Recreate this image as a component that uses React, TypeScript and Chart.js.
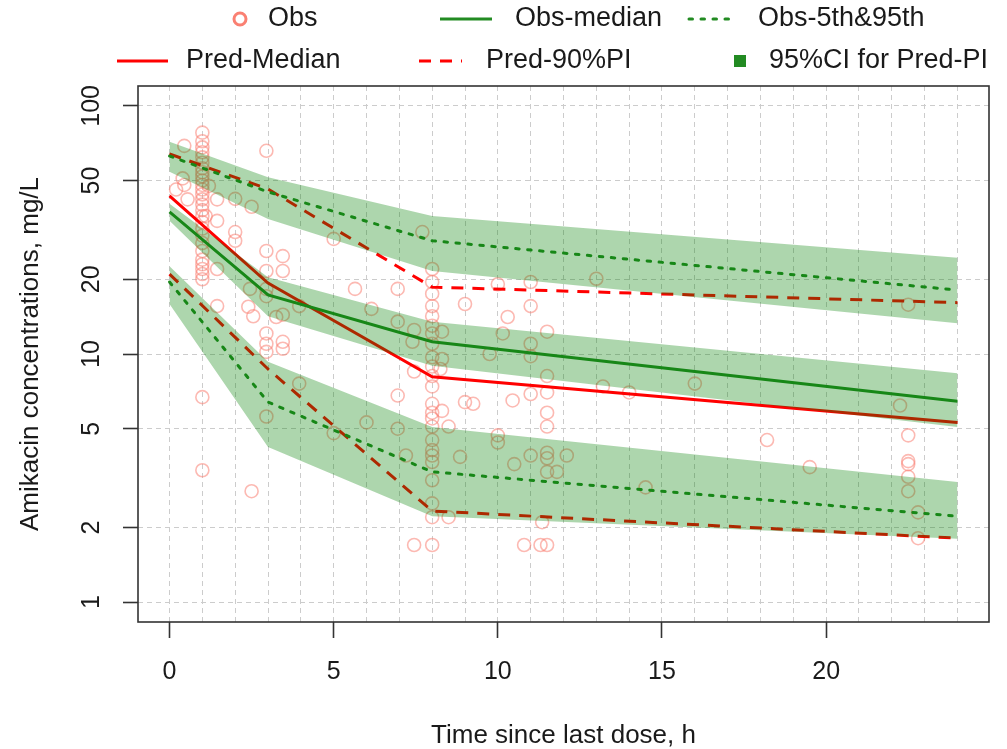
import React, { useEffect, useRef } from 'react';
import { Chart, registerables } from 'chart.js';

Chart.register(...registerables);

// ---------- data ----------
const binTime = [0, 3, 8, 24];
const predMedian = [43.4, 19.3, 8.1, 5.3];
const predP05 = [21, 8.7, 2.33, 1.81];
const predP95 = [64, 46.2, 18.6, 16.1];
const obsMedian = [37.4, 17.3, 11.2, 6.45];
const obsP05 = [19.5, 6.4, 3.35, 2.22];
const obsP95 = [62.8, 45, 28.6, 18.1];
const ciP95Lo = [54.2, 35, 21.6, 13.3];
const ciP95Hi = [71.6, 51.5, 36, 24.4];
const ciMedLo = [34.4, 14.2, 8.96, 5.08];
const ciMedHi = [40.3, 20.4, 13.5, 8.37];
const ciP05Lo = [15.9, 4.22, 2.22, 1.8];
const ciP05Hi = [22.6, 9.3, 5.08, 3.05];

// observed concentrations: [time, concentration]
const obsPoints: [number, number][] = [
  [0.45, 69], [0.4, 51], [0.2, 46], [0.55, 42], [0.45, 48],
  [1, 78], [1, 72], [1, 68], [1, 65], [1, 62], [1, 59], [1, 56], [1, 54], [1, 52], [1, 50],
  [1, 48], [1, 46], [1, 44], [1, 42], [1, 40], [1, 38], [1, 36], [1, 34], [1, 32], [1, 30],
  [1, 28], [1, 26], [1, 24], [1, 23], [1, 22], [1, 21], [1, 20], [1, 6.7], [1, 3.4],
  [1.2, 47.6], [1.1, 36], [1.45, 42], [1.45, 34.4], [1.45, 22], [1.45, 15.6],
  [2, 42.2], [2, 31], [2, 28.6],
  [2.5, 39.2], [2.45, 18.3], [2.4, 15.5], [2.55, 14.2], [2.5, 2.8],
  [2.95, 65.9], [2.95, 26], [2.95, 21.6], [2.95, 18.3], [2.95, 17.1], [2.95, 12.1], [2.95, 11], [2.95, 10.2], [2.95, 5.6],
  [3.45, 24.8], [3.45, 21.6], [3.25, 14.1], [3.45, 14.4], [3.45, 11.2], [3.45, 10.5],
  [3.95, 15.6], [3.95, 7.6],
  [5, 29.1], [5, 4.8], [5.65, 18.3], [6, 5.3], [6.15, 15.2],
  [6.95, 18.3], [6.95, 13.5], [6.95, 6.8], [6.95, 5.0], [7.2, 3.9], [7.45, 12.5], [7.4, 11.2], [7.45, 8.5], [7.45, 1.7], [7.7, 31],
  [8, 22], [8, 19.5], [8, 17.5], [8, 15.6], [8, 14.2], [8, 13], [8, 12.1], [8, 11], [8, 9.7], [8, 8.9],
  [8, 8.15], [8, 7.4], [8, 6.3], [8, 5.8], [8, 5.5], [8, 5.1], [8, 4.5], [8, 4.1], [8, 3.9], [8, 3.67],
  [8, 3.1], [8, 2.5], [8, 2.2], [8, 1.7],
  [8.3, 12.3], [8.3, 9.55], [8.25, 8.7], [8.3, 5.9], [8.5, 5.1], [8.5, 2.2], [8.85, 3.85],
  [9, 15.9], [9, 6.4], [9.25, 6.3], [9.75, 10], [10, 19.1], [10, 4.7], [10, 4.4], [10.15, 12.1], [10.3, 14.1],
  [10.45, 6.5], [10.5, 3.6], [10.8, 1.7], [11, 19.5], [11, 15.6], [11, 11], [11, 9.8], [11, 6.9], [11, 3.9],
  [11.35, 2.1], [11.3, 1.7], [11.5, 1.7], [11.5, 12.3], [11.5, 8.15], [11.5, 7.0], [11.5, 5.8], [11.5, 5.1],
  [11.5, 4.0], [11.5, 3.8], [11.5, 3.35], [11.8, 3.35], [12.1, 3.9],
  [13, 20.1], [13.2, 7.4], [14, 7.0], [14.5, 2.9], [16, 7.6], [18.2, 4.5], [19.5, 3.5],
  [22.25, 6.2], [22.5, 15.8], [22.5, 4.7], [22.5, 3.7], [22.5, 3.6], [22.5, 3.2], [22.5, 2.8], [22.8, 2.3], [22.8, 1.81],
];

const xGridValues = [0, 1, 2, 3, 4, 5, 6, 7, 8, 9, 10, 11, 12, 13, 14, 15, 16, 17, 18, 19, 20, 21, 22, 23, 24];
const xTickLabels = [0, 5, 10, 15, 20];
const yTickLabels = [1, 2, 5, 10, 20, 50, 100];
const xTitle = 'Time since last dose, h';
const yTitle = 'Amikacin concentrations, mg/L';

// ---------- styles ----------
const FONT = '"Liberation Sans", Arial, Helvetica, sans-serif';
const RED = '#FF0000';
const GREEN = '#228B22';
const BAND = 'rgba(0,128,0,0.32)';
const OBS = 'rgba(250,128,114,0.55)';
const TXT = '#1a1a1a';
const DASH = [12, 9];
const DOT = [3.5, 8.5];

function line(xs: number[], ys: number[]) {
  return xs.map((x, i) => ({ x, y: ys[i] }));
}

export default function App() {
  const ref = useRef<HTMLCanvasElement>(null);

  useEffect(() => {
    const canvas = ref.current;
    if (!canvas) return;

    const lineDs = (label: string, ys: number[], color: string, dash: number[], order: number) => ({
      type: 'line' as const,
      label,
      data: line(binTime, ys),
      borderColor: color,
      borderWidth: 3,
      borderDash: dash,
      borderCapStyle: dash === DOT ? ('round' as const) : ('butt' as const),
      pointRadius: 0,
      showLine: true,
      fill: false,
      tension: 0,
      order,
    });
    const bandLo = (ys: number[]) => ({
      type: 'line' as const,
      label: 'band-lo',
      data: line(binTime, ys),
      borderWidth: 0,
      borderColor: 'rgba(0,0,0,0)',
      pointRadius: 0,
      showLine: true,
      fill: false,
      tension: 0,
      order: 0,
    });
    const bandHi = (ys: number[]) => ({
      type: 'line' as const,
      label: 'band-hi',
      data: line(binTime, ys),
      borderWidth: 0,
      borderColor: 'rgba(0,0,0,0)',
      backgroundColor: BAND,
      pointRadius: 0,
      showLine: true,
      fill: '-1',
      tension: 0,
      order: 0,
    });

    const textPlugin = {
      id: 'rStyleText',
      afterDraw(chart: any) {
        const { ctx, chartArea, scales } = chart;
        const xs = scales.x;
        const ys = scales.y;
        ctx.save();
        // frame
        ctx.strokeStyle = '#333';
        ctx.lineWidth = 1.6;
        ctx.setLineDash([]);
        ctx.strokeRect(chartArea.left, chartArea.top, chartArea.right - chartArea.left, chartArea.bottom - chartArea.top);

        ctx.fillStyle = TXT;
        // x tick labels
        ctx.font = `25px ${FONT}`;
        ctx.textAlign = 'center';
        ctx.textBaseline = 'middle';
        xTickLabels.forEach((v) => {
          ctx.fillText(String(v), xs.getPixelForValue(v), chartArea.bottom + 50);
        });
        // y tick labels (rotated)
        yTickLabels.forEach((v) => {
          ctx.save();
          ctx.translate(chartArea.left - 46, ys.getPixelForValue(v));
          ctx.rotate(-Math.PI / 2);
          ctx.fillText(String(v), 0, 0);
          ctx.restore();
        });
        // titles
        ctx.font = `26px ${FONT}`;
        ctx.fillText(xTitle, (chartArea.left + chartArea.right) / 2, chartArea.bottom + 114);
        ctx.save();
        ctx.translate(chartArea.left - 107, (chartArea.top + chartArea.bottom) / 2);
        ctx.rotate(-Math.PI / 2);
        ctx.fillText(yTitle, 0, 0);
        ctx.restore();

        // legend
        ctx.font = `27px ${FONT}`;
        ctx.textAlign = 'left';
        const r1 = 19;
        const r2 = 61;
        // Obs
        ctx.beginPath();
        ctx.strokeStyle = 'rgb(250,128,114)';
        ctx.lineWidth = 3;
        ctx.arc(240, r1, 6, 0, Math.PI * 2);
        ctx.stroke();
        ctx.fillText('Obs', 268, r1);
        // Obs-median
        ctx.beginPath();
        ctx.strokeStyle = GREEN;
        ctx.lineWidth = 3;
        ctx.moveTo(440, r1);
        ctx.lineTo(492, r1);
        ctx.stroke();
        ctx.fillText('Obs-median', 515, r1);
        // Obs-5th&95th
        ctx.beginPath();
        ctx.setLineDash(DOT);
        ctx.lineCap = 'round';
        ctx.moveTo(689, r1);
        ctx.lineTo(735, r1);
        ctx.stroke();
        ctx.setLineDash([]);
        ctx.lineCap = 'butt';
        ctx.fillText('Obs-5th&95th', 758, r1);
        // Pred-Median
        ctx.beginPath();
        ctx.strokeStyle = RED;
        ctx.moveTo(117, r2);
        ctx.lineTo(168, r2);
        ctx.stroke();
        ctx.fillText('Pred-Median', 186, r2);
        // Pred-90%PI
        ctx.beginPath();
        ctx.setLineDash(DASH);
        ctx.moveTo(419, r2);
        ctx.lineTo(462, r2);
        ctx.stroke();
        ctx.setLineDash([]);
        ctx.fillText('Pred-90%PI', 486, r2);
        // 95%CI
        ctx.fillStyle = GREEN;
        ctx.fillRect(734, r2 - 6, 12, 12);
        ctx.fillStyle = TXT;
        ctx.fillText('95%CI for Pred-PI', 769, r2);
        ctx.restore();
      },
    };

    const chart = new Chart(canvas, {
      type: 'scatter',
      data: {
        datasets: [
          bandLo(ciP95Lo), bandHi(ciP95Hi),
          bandLo(ciMedLo), bandHi(ciMedHi),
          bandLo(ciP05Lo), bandHi(ciP05Hi),
          lineDs('Obs-median', obsMedian, GREEN, [], 1),
          lineDs('Obs-95th', obsP95, GREEN, DOT, 1),
          lineDs('Obs-5th', obsP05, GREEN, DOT, 1),
          lineDs('Pred-Median', predMedian, RED, [], 2),
          lineDs('Pred-95th', predP95, RED, DASH, 2),
          lineDs('Pred-5th', predP05, RED, DASH, 2),
          {
            type: 'scatter',
            label: 'Obs',
            data: obsPoints.map(([x, y]) => ({ x, y })),
            pointStyle: 'circle',
            pointRadius: 6.5,
            pointBorderWidth: 1.6,
            pointBorderColor: OBS,
            pointBackgroundColor: 'rgba(0,0,0,0)',
            order: 3,
          } as any,
        ] as any,
      },
      options: {
        responsive: false,
        animation: false,
        devicePixelRatio: 1,
        layout: { padding: { top: 86, right: 18, left: 0, bottom: 0 } },
        plugins: {
          legend: { display: false },
          tooltip: { enabled: false },
          filler: { propagate: false },
        },
        scales: {
          x: {
            type: 'linear',
            min: -0.96,
            max: 24.96,
            afterBuildTicks: (s: any) => {
              s.ticks = xGridValues.map((v) => ({ value: v }));
            },
            afterFit: (s: any) => {
              s.height = 127;
            },
            ticks: { display: false },
            border: { display: false, dash: [5, 4] },
            grid: {
              color: '#cccccc',
              lineWidth: 1,
              drawTicks: true,
              tickLength: 16,
              tickWidth: 1.6,
              tickBorderDash: [],
              tickColor: (c: any) => (c.tick && xTickLabels.includes(c.tick.value) ? '#333' : 'rgba(0,0,0,0)'),
            },
          },
          y: {
            type: 'logarithmic',
            min: 0.8318,
            max: 120.23,
            afterBuildTicks: (s: any) => {
              s.ticks = yTickLabels.map((v) => ({ value: v }));
            },
            afterFit: (s: any) => {
              s.width = 138;
            },
            ticks: { display: false },
            border: { display: false, dash: [5, 4] },
            grid: {
              color: '#cccccc',
              lineWidth: 1,
              drawTicks: true,
              tickLength: 15,
              tickWidth: 1.6,
              tickBorderDash: [],
              tickColor: '#333',
            },
          },
        },
      },
      plugins: [textPlugin],
    } as any);

    return () => chart.destroy();
  }, []);

  return (
    <div style={{ position: 'absolute', left: 0, top: 0, width: 1007, height: 749, background: '#fff' }}>
      <canvas ref={ref} width={1007} height={749} style={{ display: 'block', width: 1007, height: 749 }} />
    </div>
  );
}
